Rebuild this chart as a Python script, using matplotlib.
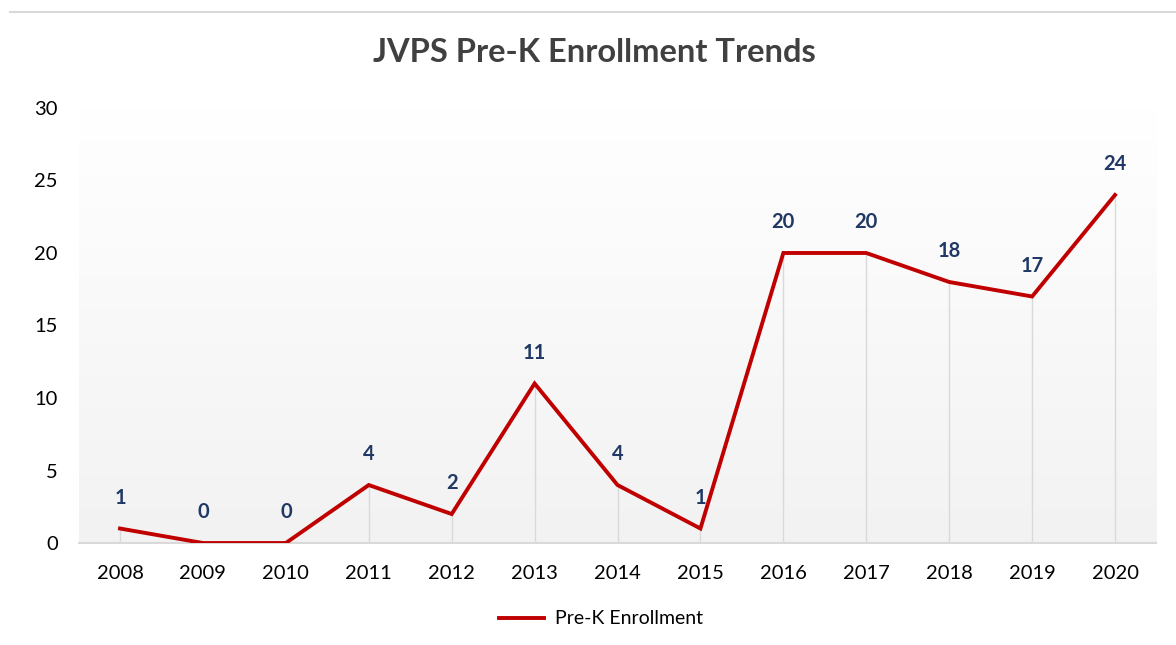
import numpy as np
import matplotlib.pyplot as plt
from matplotlib.lines import Line2D

# data
years = ["2008", "2009", "2010", "2011", "2012", "2013", "2014",
         "2015", "2016", "2017", "2018", "2019", "2020"]
enrollment = [1, 0, 0, 4, 2, 11, 4, 1, 20, 20, 18, 17, 24]
y_ticks = [0, 5, 10, 15, 20, 25, 30]

plt.rcParams['font.family'] = ['Lato', 'DejaVu Sans']

fig = plt.figure(figsize=(11.76, 6.45), dpi=100)
ax = fig.add_axes([0.0668, 0.1581, 0.9166, 0.6745])

x = np.arange(len(years))

# soft vertical gradient behind the plot
grad = np.linspace(1.0, 0.949, 256).reshape(-1, 1)
ax.imshow(np.dstack([grad, grad, grad]), extent=[-0.5, len(years) - 0.5, 0, 30],
          aspect='auto', origin='upper', zorder=0, interpolation='bilinear')

# drop lines from each point down to the axis
ax.vlines(x, 0, enrollment, color='#d9d9d9', lw=1, zorder=1)

ax.plot(x, enrollment, color='#c00000', lw=2.8, solid_joinstyle='miter',
        label='Pre-K Enrollment', zorder=3)

for xi, v in zip(x, enrollment):
    ax.annotate(str(v), (xi, v), xytext=(0, 22), textcoords='offset points',
                ha='center', va='center', fontsize=14.5, fontweight='bold',
                color='#203864', zorder=4)

ax.set_xlim(-0.5, len(years) - 0.5)
ax.set_ylim(0, 30)
ax.set_xticks(x)
ax.set_xticklabels(years)
ax.set_yticks(y_ticks)
ax.tick_params(axis='both', length=0, labelsize=14.5, colors='#000000')
ax.tick_params(axis='x', pad=16)
ax.tick_params(axis='y', pad=15)

for side in ['top', 'right', 'left']:
    ax.spines[side].set_visible(False)
ax.spines['bottom'].set_color('#d9d9d9')
ax.spines['bottom'].set_linewidth(1.5)

fig.text(594 / 1176, 1 - 53 / 645, 'JVPS Pre-K Enrollment Trends',
         ha='center', va='center', fontsize=23.5, fontweight='bold',
         color='#404040')

# top border of the chart box
fig.add_artist(Line2D([10 / 1176, 1.0], [1 - 12 / 645, 1 - 12 / 645],
                      color='#d9d9d9', lw=1.5, transform=fig.transFigure))

fig.legend(loc='center', bbox_to_anchor=(601 / 1176, 1 - 619 / 645),
           frameon=False, fontsize=14, handlelength=2.3, handletextpad=0.6)

fig.savefig('out.png', dpi=100, facecolor='white')
